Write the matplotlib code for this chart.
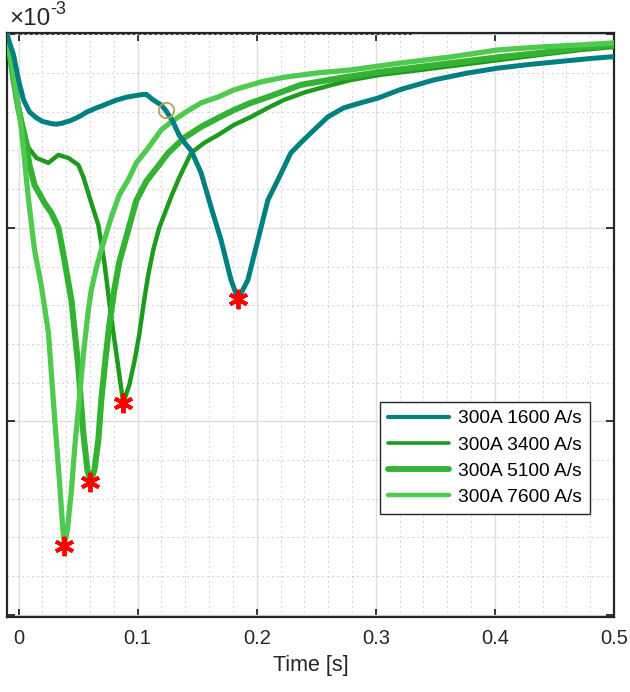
import matplotlib
matplotlib.use('Agg')
import matplotlib.pyplot as plt
import numpy as np
from matplotlib.ticker import MultipleLocator, NullFormatter

plt.rcParams['font.family'] = ['Liberation Sans', 'DejaVu Sans']

# ---- data (time in s, signal in units of 1e-3) ----
t_1600 = [-0.0097, -0.0042, 0.0, 0.0042, 0.0092, 0.0151, 0.0200, 0.0235, 0.0280, 0.0318,
          0.0360, 0.0402, 0.0440, 0.0486, 0.0530, 0.0570, 0.0610, 0.0653, 0.0700, 0.0737,
          0.0780, 0.0821, 0.0860, 0.0905, 0.0950, 0.0988, 0.1030, 0.1072, 0.1131, 0.1198,
          0.1240, 0.1298, 0.1348, 0.1407, 0.1449, 0.1533, 0.1616, 0.1700, 0.1784, 0.1843,
          0.1926, 0.2010, 0.2094, 0.2178, 0.2286, 0.2370, 0.2454, 0.2596, 0.2730, 0.2873,
          0.3015, 0.3208, 0.3484, 0.3769, 0.4020, 0.4296, 0.4548, 0.4799, 0.5000]
v_1600 = [-0.003, -0.106, -0.236, -0.339, -0.401, -0.432, -0.450, -0.455, -0.462, -0.464,
          -0.460, -0.452, -0.445, -0.432, -0.418, -0.402, -0.392, -0.380, -0.370, -0.360,
          -0.350, -0.340, -0.333, -0.325, -0.320, -0.316, -0.312, -0.310, -0.339, -0.365,
          -0.396, -0.453, -0.520, -0.570, -0.600, -0.716, -0.892, -1.062, -1.269, -1.368,
          -1.269, -1.062, -0.856, -0.752, -0.613, -0.560, -0.510, -0.427, -0.380, -0.354,
          -0.330, -0.285, -0.236, -0.200, -0.175, -0.155, -0.140, -0.125, -0.115]

t_3400 = [-0.0097, -0.0042, 0.0, 0.0042, 0.0084, 0.0151, 0.0251, 0.0335, 0.0419, 0.0502,
          0.0544, 0.0611, 0.0670, 0.0720, 0.0779, 0.0838, 0.0879, 0.0930, 0.0972, 0.1013,
          0.1055, 0.1089, 0.1131, 0.1181, 0.1223, 0.1281, 0.1348, 0.1449, 0.1558, 0.1675,
          0.1809, 0.1951, 0.2094, 0.2228, 0.2412, 0.2596, 0.2789, 0.3040, 0.3375, 0.3710,
          0.4045, 0.4380, 0.4715, 0.5000]
v_3400 = [-0.003, -0.184, -0.365, -0.494, -0.587, -0.639, -0.664, -0.623, -0.639, -0.675,
          -0.737, -0.871, -0.985, -1.176, -1.466, -1.724, -1.905, -1.812, -1.693, -1.554,
          -1.373, -1.243, -1.114, -1.000, -0.933, -0.840, -0.742, -0.613, -0.561, -0.520,
          -0.468, -0.427, -0.380, -0.339, -0.298, -0.267, -0.236, -0.209, -0.184, -0.158,
          -0.132, -0.106, -0.081, -0.065]

t_5100 = [-0.0097, -0.0042, 0.0, 0.0050, 0.0092, 0.0134, 0.0218, 0.0276, 0.0335, 0.0385,
          0.0444, 0.0502, 0.0544, 0.0578, 0.0603, 0.0637, 0.0670, 0.0695, 0.0729, 0.0762,
          0.0804, 0.0846, 0.0921, 0.0988, 0.1072, 0.1173, 0.1256, 0.1390, 0.1533, 0.1675,
          0.1809, 0.1951, 0.2094, 0.2370, 0.2705, 0.3040, 0.3375, 0.3710, 0.4045, 0.4380,
          0.4715, 0.5000]
v_5100 = [-0.003, -0.236, -0.391, -0.520, -0.675, -0.778, -0.871, -0.923, -1.000, -1.166,
          -1.373, -1.719, -2.060, -2.251, -2.313, -2.251, -2.096, -1.889, -1.683, -1.502,
          -1.321, -1.176, -1.011, -0.860, -0.760, -0.680, -0.613, -0.535, -0.478, -0.432,
          -0.391, -0.354, -0.324, -0.261, -0.225, -0.194, -0.168, -0.143, -0.117, -0.096,
          -0.070, -0.055]

t_7600 = [-0.0097, -0.0034, 0.0025, 0.0084, 0.0134, 0.0193, 0.0251, 0.0302, 0.0343, 0.0369,
          0.0385, 0.0410, 0.0444, 0.0477, 0.0502, 0.0528, 0.0553, 0.0586, 0.0611, 0.0653,
          0.0695, 0.0779, 0.0846, 0.0921, 0.0988, 0.1089, 0.1198, 0.1281, 0.1407, 0.1533,
          0.1675, 0.1809, 0.2035, 0.2228, 0.2513, 0.2789, 0.3208, 0.3626, 0.4020, 0.4380,
          0.4715, 0.5000]
v_7600 = [-0.003, -0.236, -0.494, -0.856, -1.114, -1.305, -1.543, -1.977, -2.303, -2.535,
          -2.642, -2.561, -2.354, -2.096, -1.941, -1.760, -1.605, -1.424, -1.321, -1.207,
          -1.114, -0.944, -0.830, -0.752, -0.665, -0.587, -0.494, -0.453, -0.401, -0.354,
          -0.324, -0.287, -0.246, -0.222, -0.199, -0.184, -0.148, -0.117, -0.081, -0.065,
          -0.055, -0.044]

series_labels = ['300A 1600 A/s', '300A 3400 A/s', '300A 5100 A/s', '300A 7600 A/s']
series_t = [t_1600, t_3400, t_5100, t_7600]
series_v = [v_1600, v_3400, v_5100, v_7600]

circle_t = [0.1240]
circle_v = [-0.391]
ref_line_t = [0.0, 0.330]
ref_line_v = [0.0, 0.0]

x_ticks = [0, 0.1, 0.2, 0.3, 0.4, 0.5]
x_ticklabels = ['0', '0.1', '0.2', '0.3', '0.4', '0.5']
y_ticks = [-3, -2, -1, 0]

# ---- style ----
colors = ['#008080', '#1e9b1e', '#33b233', '#4fca4f']
widths = [3.6, 3.2, 4.4, 3.8]
leg_widths = [3.0, 2.6, 4.2, 3.2]
zorders = [6, 3, 4, 5]
dark = '#262626'

fig = plt.figure(figsize=(6.3, 6.92), dpi=100)
ax = fig.add_axes([7/630, 1-617/692, 607/630, 584/692])

ax.plot(ref_line_t, np.array(ref_line_v)*1e-3, color='#3a3030', lw=1.3,
        ls=(0, (1.5, 1.5)), zorder=2)

for t, v, c, lw, lab, z in zip(series_t, series_v, colors, widths, series_labels, zorders):
    ax.plot(t, np.array(v)*1e-3, color=c, lw=lw, label=lab, zorder=z,
            solid_joinstyle='round', solid_capstyle='round')

for t, v in zip(series_t, series_v):
    i = int(np.argmin(v))
    ax.plot(t[i], v[i]*1e-3, marker=(6, 2, 0), color='red', ms=14, mew=2.8,
            ls='none', zorder=10)

ax.plot(circle_t, np.array(circle_v)*1e-3, 'o', mfc='none', mec='#b4a058', ms=11,
        mew=1.3, zorder=11)

ax.set_xlim(-0.0097, 0.5)
ax.set_ylim(-3.011e-3, 0.007e-3)
ax.set_xticks(x_ticks)
ax.set_xticklabels(x_ticklabels)
ax.set_yticks(np.array(y_ticks)*1e-3)
ax.yaxis.set_major_formatter(NullFormatter())
ax.xaxis.set_minor_locator(MultipleLocator(0.02))
ax.yaxis.set_minor_locator(MultipleLocator(0.2e-3))

ax.tick_params(which='major', direction='in', top=True, right=True, length=6,
               width=1.3, color=dark, labelsize=14.5, labelcolor=dark, pad=9)
ax.tick_params(which='minor', length=0)
ax.grid(which='major', color='#dedede', lw=1.0, ls='-')
ax.grid(which='minor', color='#b8b8b8', lw=0.8, ls=(0, (1, 3.5)))
ax.set_axisbelow(True)
for s in ax.spines.values():
    s.set_color(dark)
    s.set_linewidth(1.6)

ax.set_xlabel('Time [s]', fontsize=15.5, color=dark, labelpad=5)

fig.text(9/630, 1-25/692, '×10', fontsize=17.5, color=dark, va='baseline', ha='left')
fig.text(50/630, 1-14/692, '-3', fontsize=13, color=dark, va='baseline', ha='left')

leg = ax.legend(loc='upper left', bbox_to_anchor=((380-7)/607, (617-402)/584),
                borderaxespad=0, frameon=True, fancybox=False, edgecolor=dark,
                fontsize=13.8, handlelength=3.2, handletextpad=0.45, labelspacing=0.45,
                borderpad=0.42, framealpha=1)
leg.get_frame().set_linewidth(1.0)
leg.set_zorder(20)
for h, lw in zip(leg.get_lines(), leg_widths):
    h.set_linewidth(lw)

fig.savefig('out.png', dpi=100)
